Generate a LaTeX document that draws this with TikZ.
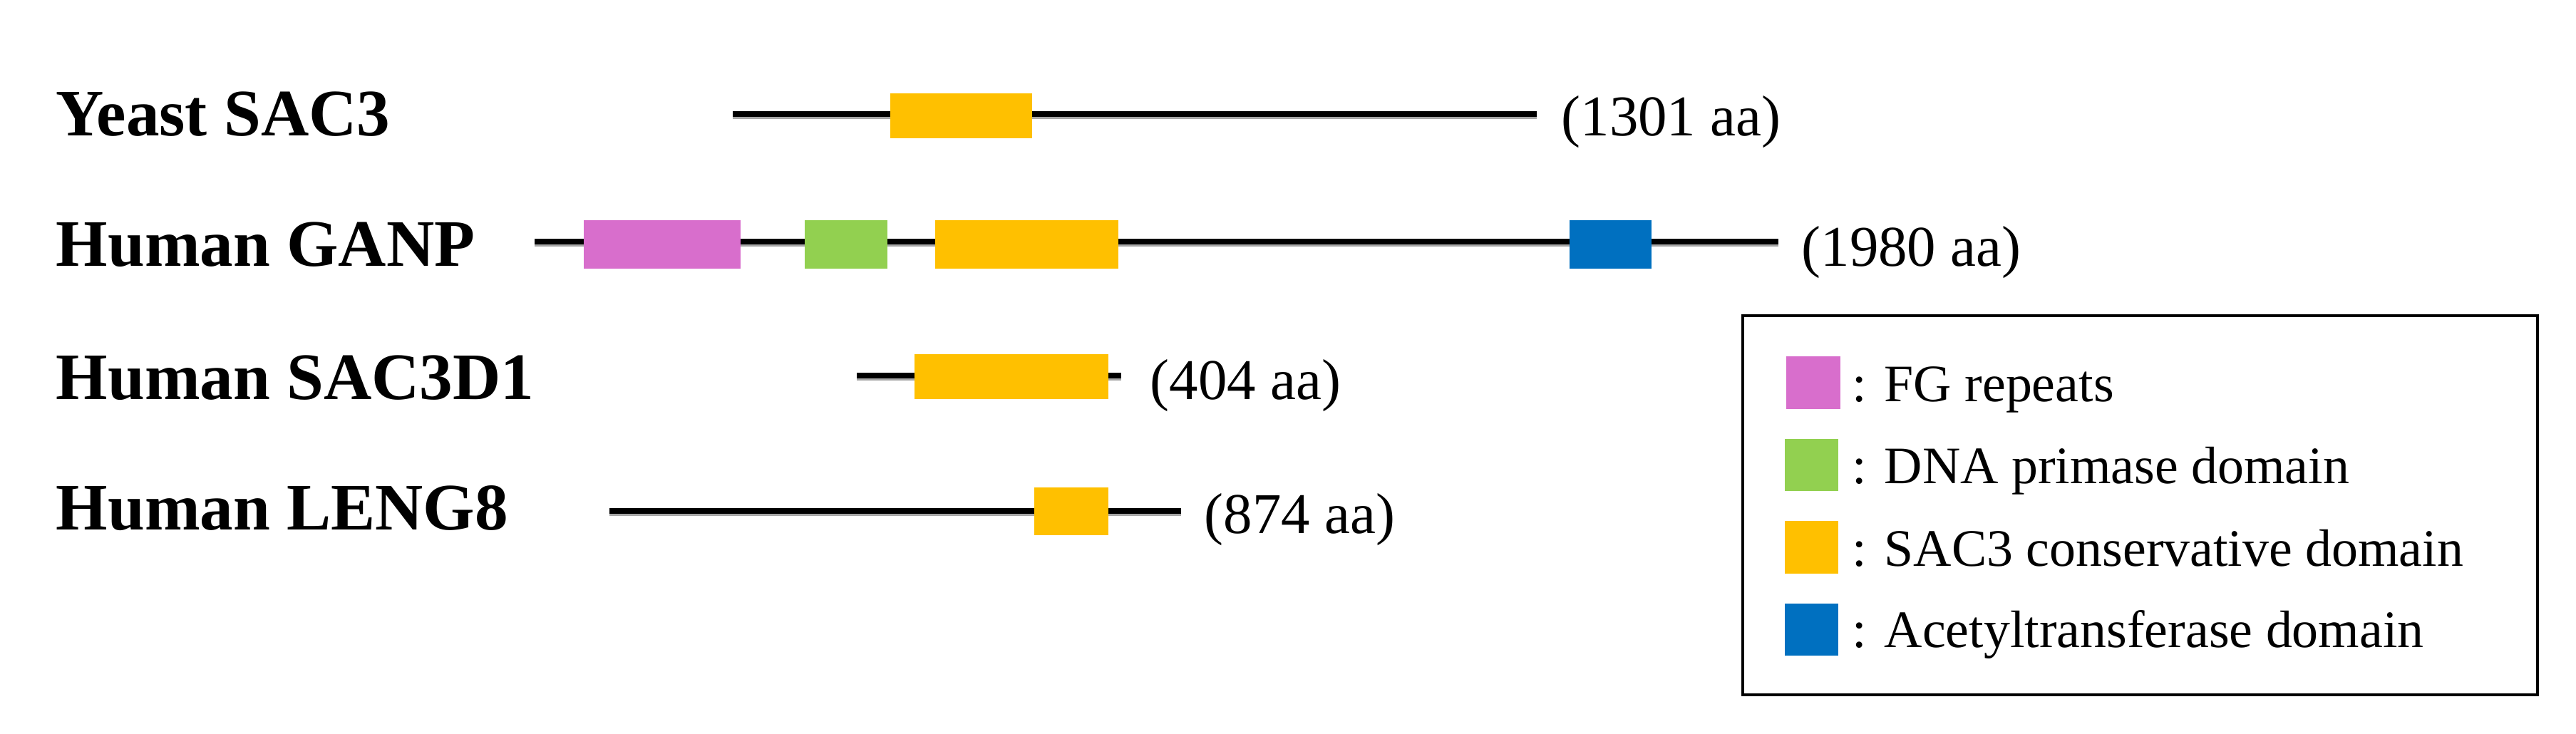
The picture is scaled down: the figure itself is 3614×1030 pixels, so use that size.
\documentclass[tikz,border=0pt]{standalone}
\usepackage{fontspec}
\setmainfont{Liberation Serif}
\definecolor{fgpink}{HTML}{D86ECC}
\definecolor{dnagreen}{HTML}{92D050}
\definecolor{sacgold}{HTML}{FFC000}
\definecolor{acblue}{HTML}{0070C0}
\begin{document}
\begin{tikzpicture}[x=0.01cm,y=-0.01cm,
  pname/.style={anchor=base west, inner sep=0pt, font=\fontsize{26.5}{30}\selectfont\bfseries},
  plen/.style={anchor=base west, inner sep=0pt, font=\fontsize{23}{27}\selectfont},
  leg/.style={anchor=base west, inner sep=0pt, font=\fontsize{21}{25}\selectfont},
  backbone/.style={line width=2pt, black},
  bbshadow/.style={line width=2pt, black!35},
  domain/.style={draw=none}]
\useasboundingbox (0,0) rectangle (3614,1030);

% ---- Yeast SAC3
\node[pname] (n1) at (78,190) {Yeast SAC3};
\coordinate (s1) at (1028,160); \coordinate (e1) at (2156,160);
\draw[bbshadow] ([yshift=-0.03cm]s1) -- ([yshift=-0.03cm]e1);
\draw[backbone] (s1) -- (e1);
\fill[sacgold] (1249,131) rectangle (1448,194);
\node[plen] (l1) at (2190,190) {(1301 aa)};

% ---- Human GANP
\node[pname] (n2) at (78,373) {Human GANP};
\coordinate (s2) at (750,339); \coordinate (e2) at (2495,339);
\draw[bbshadow] ([yshift=-0.03cm]s2) -- ([yshift=-0.03cm]e2);
\draw[backbone] (s2) -- (e2);
\fill[fgpink] (819,309) rectangle (1039,377);
\fill[dnagreen] (1129,309) rectangle (1245,377);
\fill[sacgold] (1312,309) rectangle (1569,377);
\fill[acblue] (2202,309) rectangle (2317,377);
\node[plen] (l2) at (2527,373) {(1980 aa)};

% ---- Human SAC3D1
\node[pname] (n3) at (78,560) {Human SAC3D1};
\coordinate (s3) at (1202,527); \coordinate (e3) at (1573,527);
\draw[bbshadow] ([yshift=-0.03cm]s3) -- ([yshift=-0.03cm]e3);
\draw[backbone] (s3) -- (e3);
\fill[sacgold] (1283,497) rectangle (1555,560);
\node[plen] (l3) at (1613,560) {(404 aa)};

% ---- Human LENG8
\node[pname] (n4) at (78,743) {Human LENG8};
\coordinate (s4) at (855,717); \coordinate (e4) at (1657,717);
\draw[bbshadow] ([yshift=-0.03cm]s4) -- ([yshift=-0.03cm]e4);
\draw[backbone] (s4) -- (e4);
\fill[sacgold] (1451,684) rectangle (1555,751);
\node[plen] (l4) at (1689,748) {(874 aa)};

% ---- Legend
\draw[line width=1.2pt] (2445,443) rectangle (3560,975);
\fill[fgpink] (2506,500) rectangle (2582,574);
\node[leg] (g1) at (2598,563) {: FG repeats};
\fill[dnagreen] (2504,616) rectangle (2579,689);
\node[leg] (g2) at (2598,678) {: DNA primase domain};
\fill[sacgold] (2504,731) rectangle (2579,805);
\node[leg] (g3) at (2598,794) {: SAC3 conservative domain};
\fill[acblue] (2504,847) rectangle (2579,920);
\node[leg] (g4) at (2598,908) {: Acetyltransferase domain};
\end{tikzpicture}
\end{document}
